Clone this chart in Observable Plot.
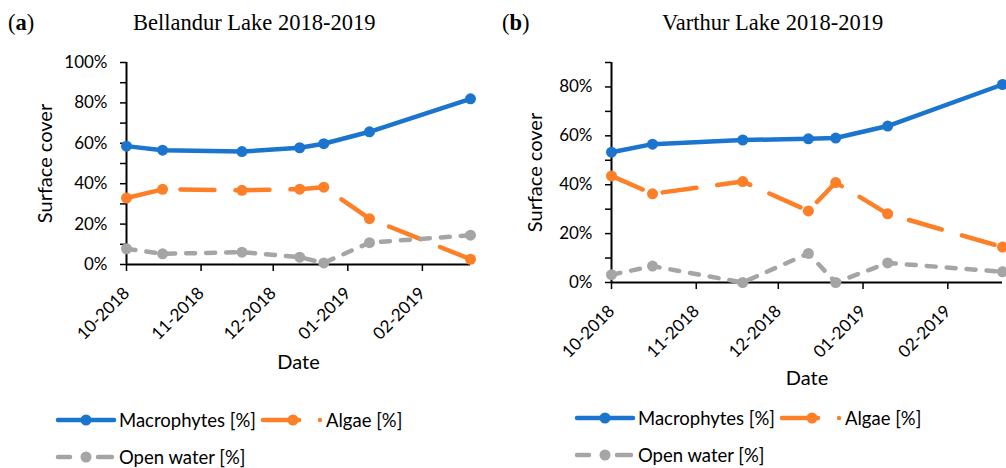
<!DOCTYPE html>
<html><head><meta charset="utf-8">
<script src="https://cdn.jsdelivr.net/npm/d3@7"></script>
<script src="https://cdn.jsdelivr.net/npm/@observablehq/plot@0.6"></script>
<style>
body{margin:0;background:#fff;}
#root{position:relative;width:1006px;height:468px;overflow:hidden;font-family:Lato,sans-serif;color:#000;}
.abs{position:absolute;}
.title{font-family:"Liberation Serif",serif;font-size:22.5px;white-space:nowrap;line-height:1;}
.leg{font-size:18.5px;white-space:nowrap;display:flex;align-items:center;line-height:1;}
svg{overflow:visible;}
</style></head><body><div id="root"></div>
<script>
// ---- data ----
const dates = ["2018-10-01","2018-10-16","2018-11-18","2018-12-12","2018-12-22","2019-01-10","2019-02-21"];
const monthTicks = ["2018-10-01","2018-11-01","2018-12-01","2019-01-01","2019-02-01"];
const seriesNames = ["Macrophytes [%]","Algae [%]","Open water [%]"];
const seriesColors = ["#1B75CF","#FD7F28","#A5A5A5"];
const bellMacro = [58.6,56.6,55.9,57.8,59.8,65.7,82.0];
const bellAlgae = [32.9,37.2,36.7,37.3,38.3,22.7,2.6];
const bellOpen  = [7.8,5.3,6.1,3.6,0.8,10.8,14.5];
const vartMacro = [53.3,56.6,58.3,58.8,59.1,64.0,81.0];
const vartAlgae = [43.6,36.3,41.3,29.3,40.9,28.1,14.5];
const vartOpen  = [3.2,6.7,0.0,11.9,0.0,8.0,4.4];
const dashes = [null,"34,21","9,11"];

const root = document.getElementById("root");
const parse = d3.utcParse("%Y-%m-%d");
const fmt = d3.utcFormat("%m-%Y");

function panel(opts){
  const {left, width, marginLeft, marginRight, ymax, bottom, series} = opts;
  const height = 400;
  const rows = [];
  series.forEach((vals,si)=>vals.forEach((v,i)=>rows.push({date:parse(dates[i]), v:v/100, s:seriesNames[si], si})));
  const marks = [
    Plot.axisY({ticks:d3.range(0, ymax+1e-9, 0.1), tickFormat:d=>Math.round(d*100)%20===0?Math.round(d*100)+"%":"", tickSize:6, tickPadding:13, fontSize:17, strokeWidth:1.5, label:null}),
    Plot.axisX({ticks:monthTicks.map(parse), tickFormat:fmt, tickRotate:-45, tickSize:7, tickPadding:19, fontSize:17, strokeWidth:1.5, label:null}),
    Plot.ruleY([0],{stroke:"#000", strokeWidth:2}),
    Plot.ruleX([parse(dates[0])],{stroke:"#000", strokeWidth:2}),
  ];
  [0,1,2].forEach(si=>{
    const d = rows.filter(r=>r.si===si);
    marks.push(Plot.line(d,{x:"date", y:"v", stroke:seriesColors[si], strokeWidth:4.5, strokeLinecap:"round", strokeLinejoin:"round", strokeDasharray:dashes[si]||undefined}));
    marks.push(Plot.dot(d,{x:"date", y:"v", r:5.5, fill:seriesColors[si], stroke:"none"}));
  });
  marks.push(Plot.text(["Surface cover"],{frameAnchor:"left", textAnchor:"middle", lineAnchor:"middle", text:d=>d, rotate:-90, dx:opts.ylabDx, fontSize:20, fill:"#000"}));
  marks.push(Plot.text(["Date"],{frameAnchor:"bottom", textAnchor:"middle", lineAnchor:"middle", text:d=>d, dy:opts.xlabDy, fontSize:20, fill:"#000"}));
  const p = Plot.plot({
    width, height, marginLeft, marginRight, marginTop:62, marginBottom:height-bottom,
    style:{fontFamily:"Lato, sans-serif", background:"transparent", overflow:"visible"},
    x:{type:"utc", domain:[parse(dates[0]), parse(dates[dates.length-1])]},
    y:{domain:[0,ymax]},
    marks
  });
  p.style.position="absolute"; p.style.left=left+"px"; p.style.top="0px";
  root.appendChild(p);
}

panel({left:0, width:500, marginLeft:126, marginRight:30, ymax:1.0, bottom:264, series:[bellMacro,bellAlgae,bellOpen], ylabDx:-81, xlabDy:98});
panel({left:500, width:506, marginLeft:111, marginRight:4, ymax:0.9, bottom:282, series:[vartMacro,vartAlgae,vartOpen], ylabDx:-76, xlabDy:96});

function addText(cls, html, x, y){
  const d=document.createElement("div"); d.className="abs "+cls; d.innerHTML=html;
  d.style.left=x+"px"; d.style.top=y+"px"; root.appendChild(d); return d;
}
addText("title","(<b>a</b>)",8,12);
addText("title","Bellandur Lake 2018-2019",133,12);
addText("title","(<b>b</b>)",502,12);
addText("title","Varthur Lake 2018-2019",662,12);

function sample(si){
  const c=seriesColors[si];
  if(si===0) return `<svg width="60" height="14"><line x1="2" y1="7" x2="58" y2="7" stroke="${c}" stroke-width="4.5" stroke-linecap="round"/><circle cx="30" cy="7" r="5.5" fill="${c}"/></svg>`;
  if(si===1) return `<svg width="62" height="14"><line x1="2" y1="7" x2="38" y2="7" stroke="${c}" stroke-width="4.5" stroke-linecap="round"/><circle cx="32" cy="7" r="5.5" fill="${c}"/><circle cx="59" cy="7" r="2.2" fill="${c}"/></svg>`;
  return `<svg width="60" height="14"><line x1="2" y1="7" x2="14" y2="7" stroke="${c}" stroke-width="4.5" stroke-linecap="round"/><line x1="42" y1="7" x2="56" y2="7" stroke="${c}" stroke-width="4.5" stroke-linecap="round"/><circle cx="30" cy="7" r="5.5" fill="${c}"/></svg>`;
}
function legend(x0, y0){
  const it = (si, x, y)=>{ addText("leg", sample(si)+`<span style="margin-left:3px">${seriesNames[si]}</span>`, x, y); };
  it(0, x0, y0);
  it(1, x0+205, y0);
  it(2, x0, y0+37);
}
legend(56, 411);
legend(575, 409);
</script></body></html>
